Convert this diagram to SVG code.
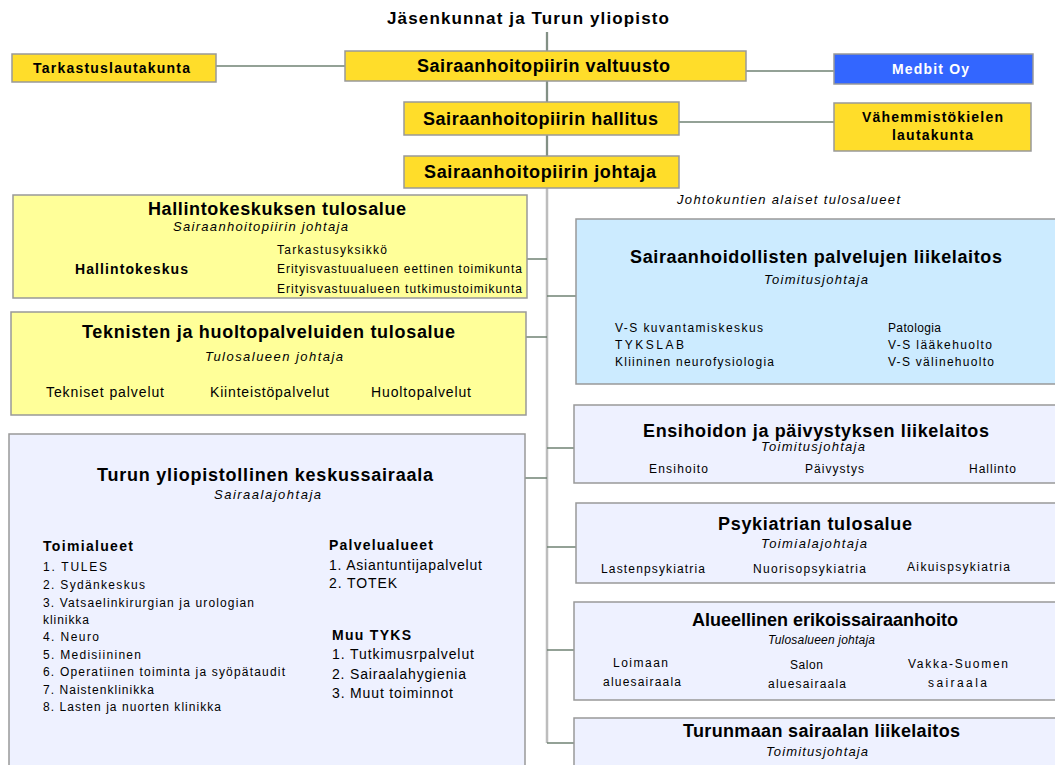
<svg xmlns="http://www.w3.org/2000/svg" width="1055" height="765" viewBox="0 0 1055 765">
<style>
text{font-family:"Liberation Sans",Arial,sans-serif;fill:#000}
.gold{fill:#FFDD2A;stroke:#999;stroke-width:1.5}
.pale{fill:#FFFF99;stroke:#999;stroke-width:1.5}
.blue{fill:#CCEBFF;stroke:#999;stroke-width:1.5}
.lav{fill:#EEF1FF;stroke:#999;stroke-width:1.5}
.con{stroke:#6F8273;stroke-width:1.5;fill:none}
.trunk{stroke:#BDBDBD;stroke-width:2.5;fill:none}
.h1{font-size:18px;font-weight:bold}
.h2{font-size:14px;font-weight:bold}
.it{font-size:13px;font-style:italic}
.it2{font-size:12px;font-style:italic}
.t{font-size:12px}
.b{font-size:14px;font-weight:bold}
.l{font-size:14px}
</style>
<g id="connectors">
<line class="trunk" x1="547" y1="32" x2="547" y2="743"/>
<line class="con" x1="547" y1="32" x2="547" y2="51"/>
<line class="con" x1="547" y1="81" x2="547" y2="102"/>
<line class="con" x1="547" y1="135" x2="547" y2="156"/>
<line class="con" x1="216" y1="66" x2="345" y2="66"/>
<line class="con" x1="746" y1="71" x2="834" y2="71"/>
<line class="con" x1="679" y1="122" x2="834" y2="122"/>
<line class="con" x1="527" y1="259" x2="547" y2="259"/>
<line class="con" x1="547" y1="296" x2="576" y2="296"/>
<line class="con" x1="526" y1="337" x2="547" y2="337"/>
<line class="con" x1="525" y1="478" x2="547" y2="478"/>
<line class="con" x1="547" y1="448" x2="574" y2="448"/>
<line class="con" x1="547" y1="547" x2="576" y2="547"/>
<line class="con" x1="547" y1="650" x2="574" y2="650"/>
<line class="con" x1="547" y1="743" x2="574" y2="743"/>
</g>
<g id="title"><text x="387" y="24" textLength="282" style="font-size:17px;font-weight:bold">Jäsenkunnat ja Turun yliopisto</text></g>
<g id="tarkastus"><rect class="gold" x="12" y="54" width="204" height="28"/><text class="h2" x="33" y="73" textLength="157">Tarkastuslautakunta</text></g>
<g id="valtuusto"><rect class="gold" x="345" y="51" width="401" height="30"/><text class="h1" x="417" y="72" textLength="253">Sairaanhoitopiirin valtuusto</text></g>
<g id="medbit"><rect x="834" y="54" width="199" height="30" fill="#3366FF" stroke="#999" stroke-width="1.5"/><text class="h2" x="892" y="74" textLength="77" style="fill:#fff">Medbit Oy</text></g>
<g id="hallitus"><rect class="gold" x="404" y="102" width="275" height="33"/><text class="h1" x="423" y="125" textLength="235">Sairaanhoitopiirin hallitus</text></g>
<g id="vahemmisto"><rect class="gold" x="834" y="103" width="197" height="48"/><text class="h2" x="862" y="122" textLength="141">Vähemmistökielen</text><text class="h2" x="892" y="140" textLength="81">lautakunta</text></g>
<g id="johtaja"><rect class="gold" x="404" y="156" width="275" height="32"/><text class="h1" x="424" y="178" textLength="232">Sairaanhoitopiirin johtaja</text></g>
<g id="johtokunnat"><text x="677" y="204" textLength="223" style="font-size:13px;font-style:italic">Johtokuntien alaiset tulosalueet</text></g>
<g id="hallintokeskuksen">
<rect class="pale" x="13" y="195" width="514" height="103"/>
<text class="h1" x="148" y="215" textLength="258">Hallintokeskuksen tulosalue</text>
<text class="it" x="173" y="231" textLength="175">Sairaanhoitopiirin johtaja</text>
<text class="b" x="75" y="274" textLength="113">Hallintokeskus</text>
<text class="t" x="277" y="254" textLength="110">Tarkastusyksikkö</text>
<text class="t" x="277" y="273" textLength="245">Erityisvastuualueen eettinen toimikunta</text>
<text class="t" x="277" y="293" textLength="245">Erityisvastuualueen tutkimustoimikunta</text>
</g>
<g id="teknisten">
<rect class="pale" x="11" y="312" width="515" height="103"/>
<text class="h1" x="82" y="338" textLength="373">Teknisten ja huoltopalveluiden tulosalue</text>
<text class="it" x="205" y="361" textLength="138">Tulosalueen johtaja</text>
<text class="l" x="46" y="397" textLength="118">Tekniset palvelut</text>
<text class="l" x="210" y="397" textLength="119">Kiinteistöpalvelut</text>
<text class="l" x="371" y="397" textLength="100">Huoltopalvelut</text>
</g>
<g id="tyks">
<rect class="lav" x="9" y="434" width="516" height="340"/>
<text class="h1" x="97" y="481" textLength="336">Turun yliopistollinen keskussairaala</text>
<text class="it" x="214" y="499" textLength="107">Sairaalajohtaja</text>
<text class="b" x="43" y="551" textLength="90">Toimialueet</text>
<text class="t" x="43" y="571" textLength="64">1. TULES</text>
<text class="t" x="43" y="589" textLength="102">2. Sydänkeskus</text>
<text class="t" x="43" y="607" textLength="211">3. Vatsaelinkirurgian ja urologian</text>
<text class="t" x="43" y="624" textLength="46">klinikka</text>
<text class="t" x="43" y="641" textLength="56">4. Neuro</text>
<text class="t" x="43" y="659" textLength="98">5. Medisiininen</text>
<text class="t" x="43" y="676" textLength="242">6. Operatiinen toiminta ja syöpätaudit</text>
<text class="t" x="43" y="694" textLength="111">7. Naistenklinikka</text>
<text class="t" x="43" y="711" textLength="178">8. Lasten ja nuorten klinikka</text>
<text class="b" x="329" y="550" textLength="104">Palvelualueet</text>
<text class="l" x="329" y="570" textLength="153">1. Asiantuntijapalvelut</text>
<text class="l" x="329" y="588" textLength="68">2. TOTEK</text>
<text class="b" x="332" y="640" textLength="79">Muu TYKS</text>
<text class="l" x="332" y="659" textLength="142">1. Tutkimusrpalvelut</text>
<text class="l" x="332" y="679" textLength="134">2. Sairaalahygienia</text>
<text class="l" x="332" y="698" textLength="121">3. Muut toiminnot</text>
</g>
<g id="sairaanhoidollisten">
<rect class="blue" x="576" y="219" width="490" height="165"/>
<text class="h1" x="630" y="263" textLength="372">Sairaanhoidollisten palvelujen liikelaitos</text>
<text class="it" x="764" y="284" textLength="104">Toimitusjohtaja</text>
<text class="t" x="615" y="332" textLength="148">V-S kuvantamiskeskus</text>
<text class="t" x="615" y="349" textLength="69">TYKSLAB</text>
<text class="t" x="615" y="366" textLength="159">Kliininen neurofysiologia</text>
<text class="t" x="888" y="332" textLength="53">Patologia</text>
<text class="t" x="888" y="349" textLength="104">V-S lääkehuolto</text>
<text class="t" x="888" y="366" textLength="106">V-S välinehuolto</text>
</g>
<g id="ensihoidon">
<rect class="lav" x="574" y="405" width="492" height="78"/>
<text class="h1" x="643" y="437" textLength="346">Ensihoidon ja päivystyksen liikelaitos</text>
<text class="it" x="761" y="451" textLength="104">Toimitusjohtaja</text>
<text class="t" x="649" y="473" textLength="59">Ensihoito</text>
<text class="t" x="805" y="473" textLength="59">Päivystys</text>
<text class="t" x="969" y="473" textLength="47">Hallinto</text>
</g>
<g id="psykiatrian">
<rect class="lav" x="576" y="503" width="490" height="80"/>
<text class="h1" x="718" y="530" textLength="194">Psykiatrian tulosalue</text>
<text class="it" x="761" y="548" textLength="106">Toimialajohtaja</text>
<text class="t" x="601" y="573" textLength="104">Lastenpsykiatria</text>
<text class="t" x="753" y="573" textLength="113">Nuorisopsykiatria</text>
<text class="t" x="907" y="571" textLength="103">Aikuispsykiatria</text>
</g>
<g id="alueellinen">
<rect class="lav" x="574" y="602" width="492" height="98"/>
<text class="h1" x="692" y="626" textLength="266">Alueellinen erikoissairaanhoito</text>
<text class="it2" x="768" y="644" textLength="107">Tulosalueen johtaja</text>
<text class="t" x="613" y="667" textLength="55">Loimaan</text>
<text class="t" x="603" y="686" textLength="78">aluesairaala</text>
<text class="t" x="790" y="669" textLength="33">Salon</text>
<text class="t" x="768" y="688" textLength="78">aluesairaala</text>
<text class="t" x="908" y="668" textLength="100">Vakka-Suomen</text>
<text class="t" x="928" y="687" textLength="59">sairaala</text>
</g>
<g id="turunmaan">
<rect class="lav" x="574" y="718" width="492" height="60"/>
<text class="h1" x="683" y="737" textLength="277">Turunmaan sairaalan liikelaitos</text>
<text class="it" x="766" y="756" textLength="102">Toimitusjohtaja</text>
</g>
</svg>
